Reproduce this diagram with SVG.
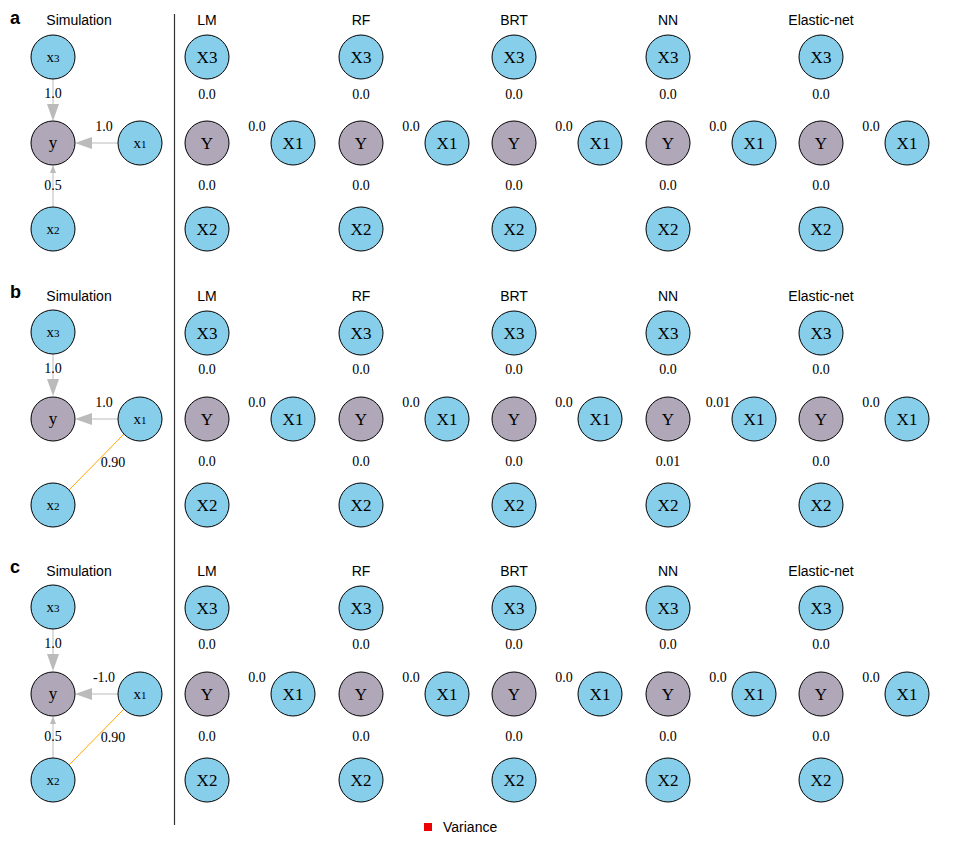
<svg xmlns="http://www.w3.org/2000/svg" width="960" height="864" viewBox="0 0 960 864">
<style>
.bg{fill:#fff}
.n{fill:#87CEEB;stroke:#000;stroke-width:1}
.ny{fill:#B0A8B9;stroke:#000;stroke-width:1}
.nl{font-family:"Liberation Serif",serif;font-size:17px;text-anchor:middle;fill:#000}
.sl{font-family:"Liberation Serif",serif;font-size:15px;text-anchor:middle;fill:#000}
.sub{font-size:11px}
.el{font-family:"Liberation Serif",serif;font-size:14px;text-anchor:middle;fill:#000}
.hd{font-family:"Liberation Sans",sans-serif;font-size:14px;text-anchor:middle;fill:#000}
.pl{font-family:"Liberation Sans",sans-serif;font-size:18px;font-weight:bold;fill:#000}
.ed{stroke:#bbbbbb;stroke-width:1;fill:none}
.ah{fill:#bbbbbb}
.cor{stroke:#FFA500;stroke-width:1;fill:none}
</style>
<rect class="bg" width="960" height="864"/>
<line x1="174.5" y1="14" x2="174.5" y2="825" stroke="#333" stroke-width="1.2"/>
<text class="pl" x="10" y="24">a</text>
<text class="pl" x="10" y="298">b</text>
<text class="pl" x="10" y="573">c</text>

<g id="connectors">
<line class="ed" x1="53" y1="79" x2="53" y2="107"/>
<polygon class="ah" points="53,121 47,104 59,104"/>
<line class="ed" x1="118" y1="143" x2="88" y2="143"/>
<polygon class="ah" points="75,143 92,137 92,149"/>
<line class="ed" x1="53" y1="207" x2="53" y2="172"/>
<polygon class="ah" points="53,165 50,173 56,173"/>
<line class="ed" x1="53" y1="354" x2="53" y2="382"/>
<polygon class="ah" points="53,396 47,379 59,379"/>
<line class="ed" x1="118" y1="419" x2="88" y2="419"/>
<polygon class="ah" points="75,419 92,413 92,425"/>
<line class="cor" x1="124" y1="434" x2="69" y2="490"/>
<line class="ed" x1="53" y1="629" x2="53" y2="657"/>
<polygon class="ah" points="53,671 47,654 59,654"/>
<line class="ed" x1="118" y1="694" x2="88" y2="694"/>
<polygon class="ah" points="75,694 92,688 92,700"/>
<line class="ed" x1="53" y1="758" x2="53" y2="723"/>
<polygon class="ah" points="53,716 50,724 56,724"/>
<line class="cor" x1="124" y1="709" x2="69" y2="765"/>
</g>

<g id="edge-labels">
<text class="el" x="53" y="98">1.0</text>
<text class="el" x="104" y="131">1.0</text>
<text class="el" x="53" y="190">0.5</text>
<text class="el" x="53" y="373">1.0</text>
<text class="el" x="104" y="407">1.0</text>
<text class="el" x="113" y="467">0.90</text>
<text class="el" x="53" y="648">1.0</text>
<text class="el" x="104" y="682">-1.0</text>
<text class="el" x="53" y="741">0.5</text>
<text class="el" x="113" y="742">0.90</text>
</g>

<g id="sim-a">
<text class="hd" x="79" y="25">Simulation</text>
<g id="a-sim-x3"><circle class="n" cx="53" cy="57" r="22"/><text class="sl" x="53" y="62">x<tspan class="sub">3</tspan></text></g>
<g id="a-sim-y"><circle class="ny" cx="53" cy="143" r="22"/><text class="nl" x="53" y="148">y</text></g>
<g id="a-sim-x1"><circle class="n" cx="140" cy="143" r="22"/><text class="sl" x="140" y="148">x<tspan class="sub">1</tspan></text></g>
<g id="a-sim-x2"><circle class="n" cx="53" cy="229" r="22"/><text class="sl" x="53" y="234">x<tspan class="sub">2</tspan></text></g>
</g>
<g id="sim-b">
<text class="hd" x="79" y="301">Simulation</text>
<g id="b-sim-x3"><circle class="n" cx="53" cy="332" r="22"/><text class="sl" x="53" y="337">x<tspan class="sub">3</tspan></text></g>
<g id="b-sim-y"><circle class="ny" cx="53" cy="419" r="22"/><text class="nl" x="53" y="424">y</text></g>
<g id="b-sim-x1"><circle class="n" cx="140" cy="419" r="22"/><text class="sl" x="140" y="424">x<tspan class="sub">1</tspan></text></g>
<g id="b-sim-x2"><circle class="n" cx="53" cy="505" r="22"/><text class="sl" x="53" y="510">x<tspan class="sub">2</tspan></text></g>
</g>
<g id="sim-c">
<text class="hd" x="79" y="576">Simulation</text>
<g id="c-sim-x3"><circle class="n" cx="53" cy="607" r="22"/><text class="sl" x="53" y="612">x<tspan class="sub">3</tspan></text></g>
<g id="c-sim-y"><circle class="ny" cx="53" cy="694" r="22"/><text class="nl" x="53" y="699">y</text></g>
<g id="c-sim-x1"><circle class="n" cx="140" cy="694" r="22"/><text class="sl" x="140" y="699">x<tspan class="sub">1</tspan></text></g>
<g id="c-sim-x2"><circle class="n" cx="53" cy="780" r="22"/><text class="sl" x="53" y="785">x<tspan class="sub">2</tspan></text></g>
</g>

<defs>
<g id="model">
<circle class="n" cx="0" cy="0" r="22"/><text class="nl" x="0" y="6">X3</text>
<circle class="ny" cx="0" cy="86" r="22"/><text class="nl" x="0" y="92">Y</text>
<circle class="n" cx="86" cy="86" r="22"/><text class="nl" x="86" y="92">X1</text>
<circle class="n" cx="0" cy="172" r="22"/><text class="nl" x="0" y="178">X2</text>
</g>
</defs>

<g id="a-LM"><text class="hd" x="207" y="25">LM</text><use href="#model" x="207" y="57"/><text class="el" x="207" y="99">0.0</text><text class="el" x="257" y="131">0.0</text><text class="el" x="207" y="190">0.0</text></g>
<g id="a-RF"><text class="hd" x="361" y="25">RF</text><use href="#model" x="361" y="57"/><text class="el" x="361" y="99">0.0</text><text class="el" x="411" y="131">0.0</text><text class="el" x="361" y="190">0.0</text></g>
<g id="a-BRT"><text class="hd" x="514" y="25">BRT</text><use href="#model" x="514" y="57"/><text class="el" x="514" y="99">0.0</text><text class="el" x="564" y="131">0.0</text><text class="el" x="514" y="190">0.0</text></g>
<g id="a-NN"><text class="hd" x="668" y="25">NN</text><use href="#model" x="668" y="57"/><text class="el" x="668" y="99">0.0</text><text class="el" x="718" y="131">0.0</text><text class="el" x="668" y="190">0.0</text></g>
<g id="a-EN"><text class="hd" x="821" y="25">Elastic-net</text><use href="#model" x="821" y="57"/><text class="el" x="821" y="99">0.0</text><text class="el" x="871" y="131">0.0</text><text class="el" x="821" y="190">0.0</text></g>

<g id="b-LM"><text class="hd" x="207" y="301">LM</text><use href="#model" x="207" y="333"/><text class="el" x="207" y="374">0.0</text><text class="el" x="257" y="407">0.0</text><text class="el" x="207" y="466">0.0</text></g>
<g id="b-RF"><text class="hd" x="361" y="301">RF</text><use href="#model" x="361" y="333"/><text class="el" x="361" y="374">0.0</text><text class="el" x="411" y="407">0.0</text><text class="el" x="361" y="466">0.0</text></g>
<g id="b-BRT"><text class="hd" x="514" y="301">BRT</text><use href="#model" x="514" y="333"/><text class="el" x="514" y="374">0.0</text><text class="el" x="564" y="407">0.0</text><text class="el" x="514" y="466">0.0</text></g>
<g id="b-NN"><text class="hd" x="668" y="301">NN</text><use href="#model" x="668" y="333"/><text class="el" x="668" y="374">0.0</text><text class="el" x="718" y="407">0.01</text><text class="el" x="668" y="466">0.01</text></g>
<g id="b-EN"><text class="hd" x="821" y="301">Elastic-net</text><use href="#model" x="821" y="333"/><text class="el" x="821" y="374">0.0</text><text class="el" x="871" y="407">0.0</text><text class="el" x="821" y="466">0.0</text></g>

<g id="c-LM"><text class="hd" x="207" y="576">LM</text><use href="#model" x="207" y="608"/><text class="el" x="207" y="649">0.0</text><text class="el" x="257" y="682">0.0</text><text class="el" x="207" y="741">0.0</text></g>
<g id="c-RF"><text class="hd" x="361" y="576">RF</text><use href="#model" x="361" y="608"/><text class="el" x="361" y="649">0.0</text><text class="el" x="411" y="682">0.0</text><text class="el" x="361" y="741">0.0</text></g>
<g id="c-BRT"><text class="hd" x="514" y="576">BRT</text><use href="#model" x="514" y="608"/><text class="el" x="514" y="649">0.0</text><text class="el" x="564" y="682">0.0</text><text class="el" x="514" y="741">0.0</text></g>
<g id="c-NN"><text class="hd" x="668" y="576">NN</text><use href="#model" x="668" y="608"/><text class="el" x="668" y="649">0.0</text><text class="el" x="718" y="682">0.0</text><text class="el" x="668" y="741">0.0</text></g>
<g id="c-EN"><text class="hd" x="821" y="576">Elastic-net</text><use href="#model" x="821" y="608"/><text class="el" x="821" y="649">0.0</text><text class="el" x="871" y="682">0.0</text><text class="el" x="821" y="741">0.0</text></g>

<g id="legend">
<rect x="424" y="823" width="8" height="8" fill="#ee0000"/>
<text font-family="Liberation Sans, sans-serif" font-size="14" x="443" y="832">Variance</text>
</g>
</svg>
